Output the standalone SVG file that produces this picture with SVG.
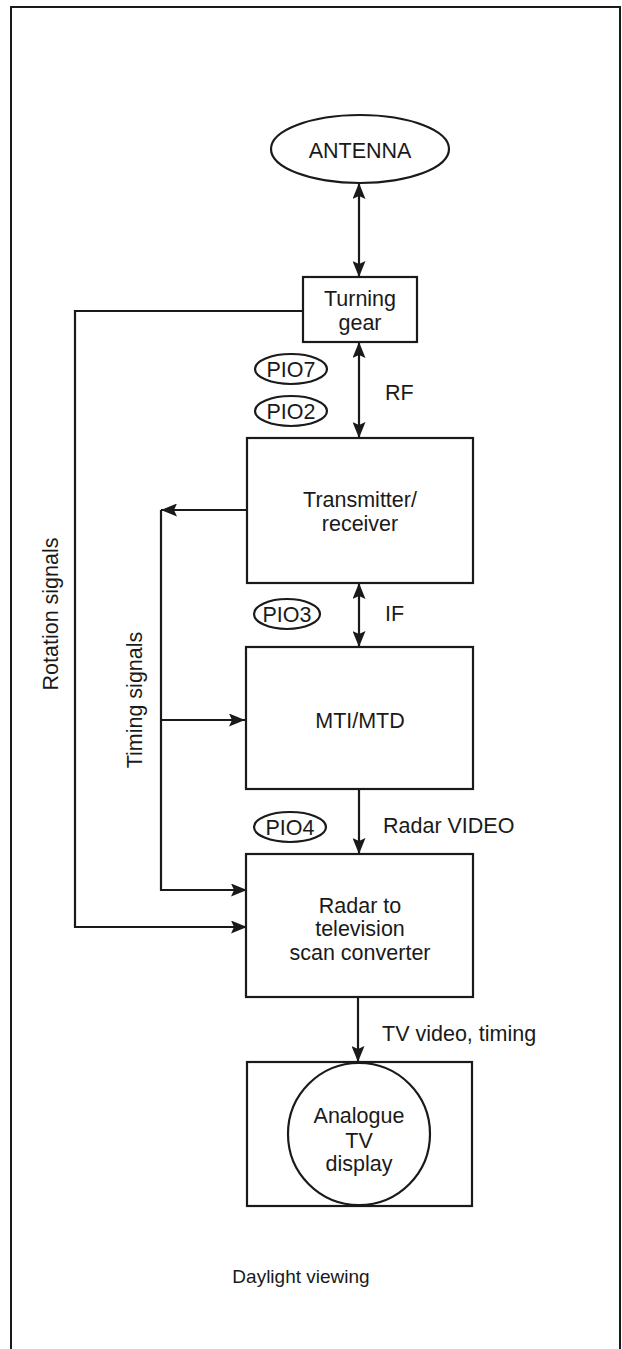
<svg xmlns="http://www.w3.org/2000/svg" width="622" height="1349" viewBox="0 0 622 1349">
<style>
.b{fill:#fff;stroke:#1a1a1a;stroke-width:2.2}
.c{fill:none;stroke:#1a1a1a;stroke-width:2.2}
.t{font-family:"Liberation Sans",Arial,sans-serif;font-size:21.5px;fill:#1a1a1a;text-anchor:middle}
.l{font-family:"Liberation Sans",Arial,sans-serif;font-size:21.5px;fill:#1a1a1a}
</style>
<defs>
<marker id="ah" viewBox="0 0 16 13" refX="16" refY="6.5" markerWidth="16" markerHeight="13" orient="auto-start-reverse" markerUnits="userSpaceOnUse"><path d="M0,0 L16,6.5 L0,13 L3,6.5 Z" fill="#1a1a1a"/></marker>
</defs>
<rect x="0" y="0" width="622" height="1349" fill="#fff"/>
<rect id="frame" x="11" y="7" width="609" height="1370" fill="none" stroke="#1a1a1a" stroke-width="2"/>
<g id="connectors">
<path class="c" d="M359,183 L359,277" marker-start="url(#ah)" marker-end="url(#ah)"/>
<path class="c" d="M303,311 L75,311 L75,927 L247,927" marker-end="url(#ah)"/>
<path class="c" d="M359,342 L359,438" marker-start="url(#ah)" marker-end="url(#ah)"/>
<path class="c" d="M247,510 L161,510" marker-end="url(#ah)"/>
<path class="c" d="M161,510 L161,890 L247,890" marker-end="url(#ah)"/>
<path class="c" d="M161,720 L245,720" marker-end="url(#ah)"/>
<path class="c" d="M359,583 L359,647" marker-start="url(#ah)" marker-end="url(#ah)"/>
<path class="c" d="M359,789 L359,854" marker-end="url(#ah)"/>
<path class="c" d="M358,997 L358,1062" marker-end="url(#ah)"/>
<text class="l" x="385" y="400">RF</text>
<text class="l" x="385" y="621">IF</text>
<text class="l" x="383" y="833">Radar VIDEO</text>
<text class="l" x="382" y="1041">TV video, timing</text>
<text class="t" transform="translate(58,614) rotate(-90)">Rotation signals</text>
<text class="t" transform="translate(142,700) rotate(-90)">Timing signals</text>
</g>
<g id="antenna">
<ellipse class="b" cx="360" cy="149" rx="89" ry="34"/>
<text class="t" x="360" y="158">ANTENNA</text>
</g>
<g id="turning-gear">
<rect class="b" x="303" y="277" width="114" height="65"/>
<text class="t" x="360" y="306">Turning</text>
<text class="t" x="360" y="330">gear</text>
</g>
<g id="pio7">
<ellipse class="b" cx="291" cy="369" rx="36" ry="15"/>
<text class="t" x="291" y="377">PIO7</text>
</g>
<g id="pio2">
<ellipse class="b" cx="291" cy="411" rx="36" ry="15"/>
<text class="t" x="291" y="419">PIO2</text>
</g>
<g id="transmitter">
<rect class="b" x="247" y="438" width="226" height="145"/>
<text class="t" x="360" y="507">Transmitter/</text>
<text class="t" x="360" y="531">receiver</text>
</g>
<g id="pio3">
<ellipse class="b" cx="287" cy="614" rx="33" ry="15"/>
<text class="t" x="287" y="622">PIO3</text>
</g>
<g id="mti">
<rect class="b" x="246" y="647" width="227" height="142"/>
<text class="t" x="360" y="728">MTI/MTD</text>
</g>
<g id="pio4">
<ellipse class="b" cx="290" cy="827" rx="36" ry="15"/>
<text class="t" x="290" y="835">PIO4</text>
</g>
<g id="scan-converter">
<rect class="b" x="246" y="854" width="227" height="143"/>
<text class="t" x="360" y="913">Radar to</text>
<text class="t" x="360" y="936">television</text>
<text class="t" x="360" y="960">scan converter</text>
</g>
<g id="tv-display">
<rect class="b" x="247" y="1062" width="225" height="144"/>
<circle class="b" cx="359" cy="1134" r="71"/>
<text class="t" x="359" y="1123">Analogue</text>
<text class="t" x="359" y="1148">TV</text>
<text class="t" x="359" y="1171">display</text>
</g>
<text id="daylight" class="t" x="301" y="1283" style="font-size:19px">Daylight viewing</text>
</svg>
